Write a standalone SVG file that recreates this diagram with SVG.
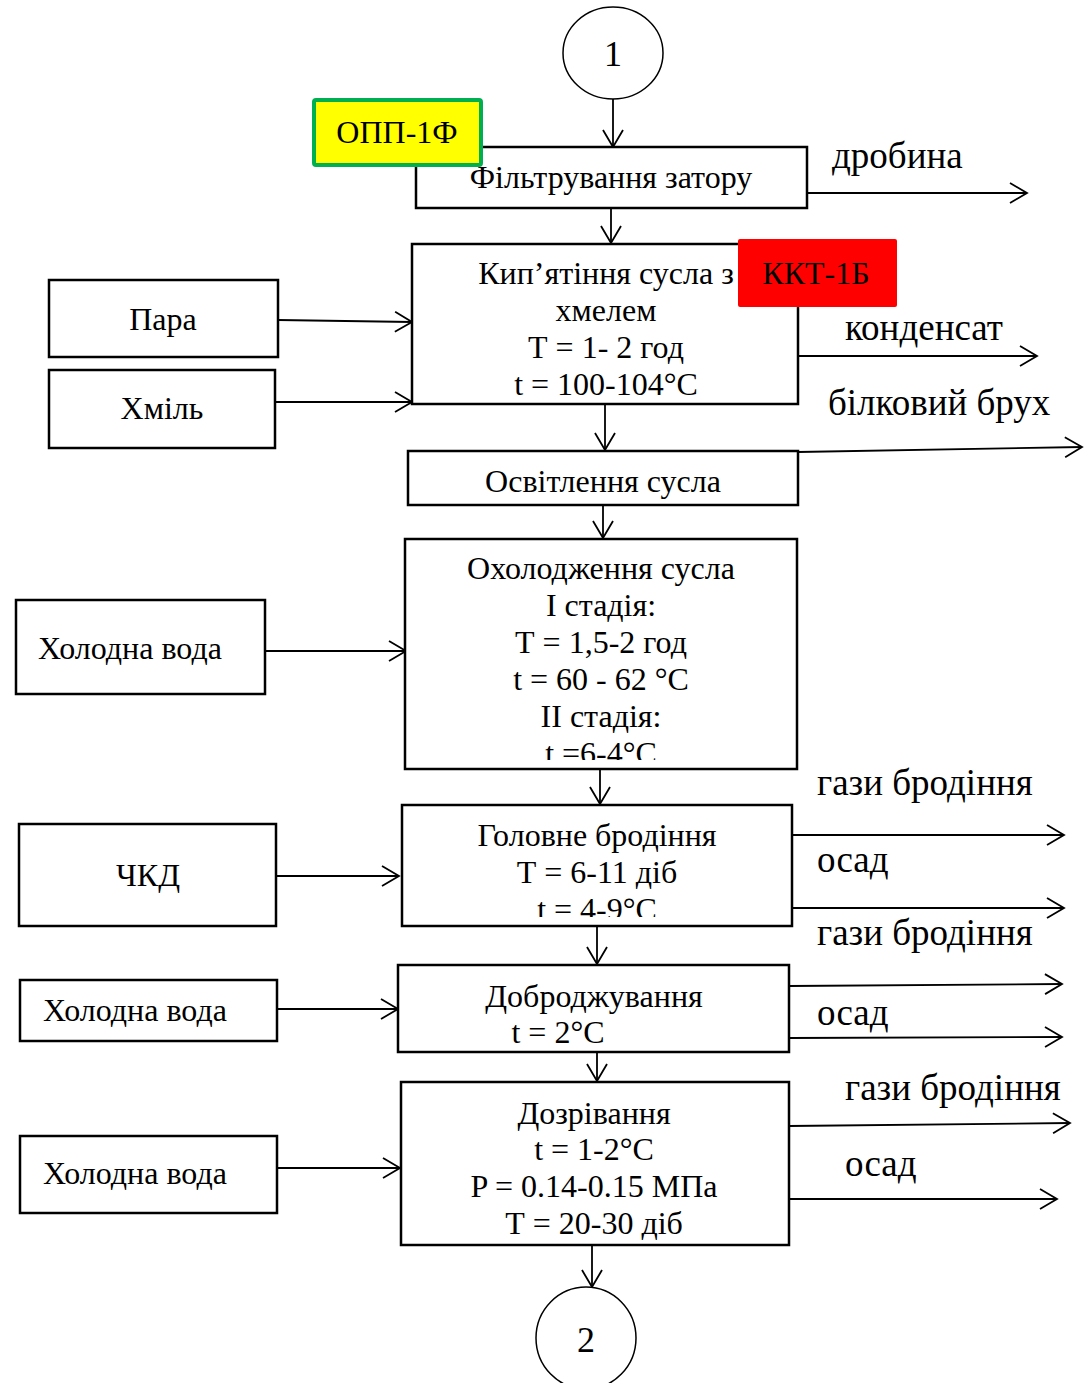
<svg xmlns="http://www.w3.org/2000/svg" width="1084" height="1383" viewBox="0 0 1084 1383">
  <defs>
    <marker id="arrow" markerUnits="userSpaceOnUse" markerWidth="22" markerHeight="26" viewBox="-19 -13 22 26" refX="0" refY="0" orient="auto">
      <path d="M-17,-10 L0,0 L-17,10" fill="none" stroke="#000" stroke-width="1.8"/>
    </marker>
    <clipPath id="clipCool"><rect x="405" y="539" width="392" height="221"/></clipPath>
    <clipPath id="clipMain"><rect x="402" y="805" width="390" height="112"/></clipPath>
  </defs>
  <style>
    .box { fill: #fff; stroke: #000; stroke-width: 2.5; }
    .circ { fill: #fff; stroke: #000; stroke-width: 1.5; }
    .t { font-family: "Liberation Serif", "Times New Roman", serif; font-size: 32px; fill: #000; text-anchor: middle; }
    .lbl { font-family: "Liberation Serif", "Times New Roman", serif; font-size: 37px; fill: #000; }
    .num { font-family: "Liberation Serif", "Times New Roman", serif; font-size: 36px; fill: #000; text-anchor: middle; }
    .flow { fill: none; stroke: #000; stroke-width: 1.8; marker-end: url(#arrow); }
  </style>
  <rect width="1084" height="1383" fill="#fff"/>

  <!-- connectors -->
  <g id="connectors">
    <line class="flow" x1="613" y1="99" x2="613" y2="147"/>
    <line class="flow" x1="611" y1="208" x2="611" y2="243"/>
    <line class="flow" x1="807" y1="193" x2="1027" y2="193"/>
    <line class="flow" x1="278" y1="320" x2="412" y2="322"/>
    <line class="flow" x1="275" y1="402" x2="412" y2="402"/>
    <line class="flow" x1="797" y1="356" x2="1037" y2="356"/>
    <line class="flow" x1="605" y1="404" x2="605" y2="450"/>
    <line class="flow" x1="798" y1="452" x2="1082" y2="447"/>
    <line class="flow" x1="603" y1="505" x2="603" y2="538"/>
    <line class="flow" x1="265" y1="651" x2="406" y2="651"/>
    <line class="flow" x1="600" y1="769" x2="600" y2="804"/>
    <line class="flow" x1="276" y1="876" x2="399" y2="876"/>
    <line class="flow" x1="792" y1="835" x2="1064" y2="835"/>
    <line class="flow" x1="792" y1="908" x2="1064" y2="908"/>
    <line class="flow" x1="597" y1="926" x2="597" y2="964"/>
    <line class="flow" x1="278" y1="1009" x2="398" y2="1009"/>
    <line class="flow" x1="789" y1="986" x2="1062" y2="984"/>
    <line class="flow" x1="789" y1="1038" x2="1062" y2="1037"/>
    <line class="flow" x1="597" y1="1052" x2="597" y2="1081"/>
    <line class="flow" x1="278" y1="1168" x2="400" y2="1168"/>
    <line class="flow" x1="789" y1="1126" x2="1070" y2="1123"/>
    <line class="flow" x1="789" y1="1199" x2="1057" y2="1199"/>
    <line class="flow" x1="592" y1="1245" x2="592" y2="1287"/>
  </g>

  <!-- outflow labels -->
  <g id="labels">
    <text class="lbl" x="832" y="168">дробина</text>
    <text class="lbl" x="845" y="340">конденсат</text>
    <text class="lbl" x="828" y="415">білковий брух</text>
    <text class="lbl" x="817" y="795">гази бродіння</text>
    <text class="lbl" x="817" y="872">осад</text>
    <text class="lbl" x="817" y="945">гази бродіння</text>
    <text class="lbl" x="817" y="1025">осад</text>
    <text class="lbl" x="845" y="1100">гази бродіння</text>
    <text class="lbl" x="845" y="1176">осад</text>
  </g>

  <g id="start">
    <ellipse class="circ" cx="613" cy="53" rx="50" ry="46"/>
    <text class="num" x="613" y="66">1</text>
  </g>

  <g id="filtration">
    <rect class="box" x="416" y="147" width="391" height="61"/>
    <text class="t" x="611" y="188">Фільтрування затору</text>
  </g>

  <g id="opp-1f">
    <rect x="314" y="100" width="167" height="65" rx="2" fill="#ffff00" stroke="#00b050" stroke-width="4"/>
    <text class="t" x="397" y="143">ОПП-1Ф</text>
  </g>

  <g id="steam">
    <rect class="box" x="49" y="280" width="229" height="77"/>
    <text class="t" x="163" y="330">Пара</text>
  </g>

  <g id="hops">
    <rect class="box" x="49" y="370" width="226" height="78"/>
    <text class="t" x="162" y="419">Хміль</text>
  </g>

  <g id="boiling">
    <rect class="box" x="412" y="244" width="386" height="160"/>
    <text class="t" x="606" y="284">Кип’ятіння сусла з</text>
    <text class="t" x="606" y="321">хмелем</text>
    <text class="t" x="606" y="358">Т = 1- 2 год</text>
    <text class="t" x="606" y="395">t = 100-104°C</text>
  </g>

  <g id="kkt-1b">
    <rect x="738" y="239" width="159" height="68" rx="2" fill="#ff0000"/>
    <text class="t" x="816" y="284">ККТ-1Б</text>
  </g>

  <g id="clarification">
    <rect class="box" x="408" y="451" width="390" height="54"/>
    <text class="t" x="603" y="492">Освітлення сусла</text>
  </g>

  <g id="cold-water-1">
    <rect class="box" x="16" y="600" width="249" height="94"/>
    <text class="t" x="130" y="659">Холодна вода</text>
  </g>

  <g id="cooling">
    <rect class="box" x="405" y="539" width="392" height="230"/>
    <g clip-path="url(#clipCool)">
      <text class="t" x="601" y="579">Охолодження сусла</text>
      <text class="t" x="601" y="616">І стадія:</text>
      <text class="t" x="601" y="653">Т = 1,5-2 год</text>
      <text class="t" x="601" y="690">t = 60 - 62 °C</text>
      <text class="t" x="601" y="727">ІІ стадія:</text>
      <text class="t" x="601" y="764">t =6-4°C</text>
    </g>
  </g>

  <g id="yeast">
    <rect class="box" x="19" y="824" width="257" height="102"/>
    <text class="t" x="148" y="886">ЧКД</text>
  </g>

  <g id="main-fermentation">
    <rect class="box" x="402" y="805" width="390" height="121"/>
    <g clip-path="url(#clipMain)">
      <text class="t" x="597" y="846">Головне бродіння</text>
      <text class="t" x="597" y="883">Т = 6-11 діб</text>
      <text class="t" x="597" y="920">t = 4-9°C</text>
    </g>
  </g>

  <g id="cold-water-2">
    <rect class="box" x="20" y="980" width="257" height="61"/>
    <text class="t" x="135" y="1021">Холодна вода</text>
  </g>

  <g id="post-fermentation">
    <rect class="box" x="398" y="965" width="391" height="87"/>
    <text class="t" x="594" y="1007">Доброджування</text>
    <text class="t" x="558" y="1043">t = 2°C</text>
  </g>

  <g id="cold-water-3">
    <rect class="box" x="20" y="1136" width="257" height="77"/>
    <text class="t" x="135" y="1184">Холодна вода</text>
  </g>

  <g id="maturation">
    <rect class="box" x="401" y="1082" width="388" height="163"/>
    <text class="t" x="594" y="1124">Дозрівання</text>
    <text class="t" x="594" y="1160">t = 1-2°C</text>
    <text class="t" x="594" y="1197">P = 0.14-0.15 МПа</text>
    <text class="t" x="594" y="1234">Т = 20-30 діб</text>
  </g>

  <g id="end">
    <ellipse class="circ" cx="586" cy="1338" rx="50" ry="51"/>
    <text class="num" x="586" y="1352">2</text>
  </g>
</svg>
